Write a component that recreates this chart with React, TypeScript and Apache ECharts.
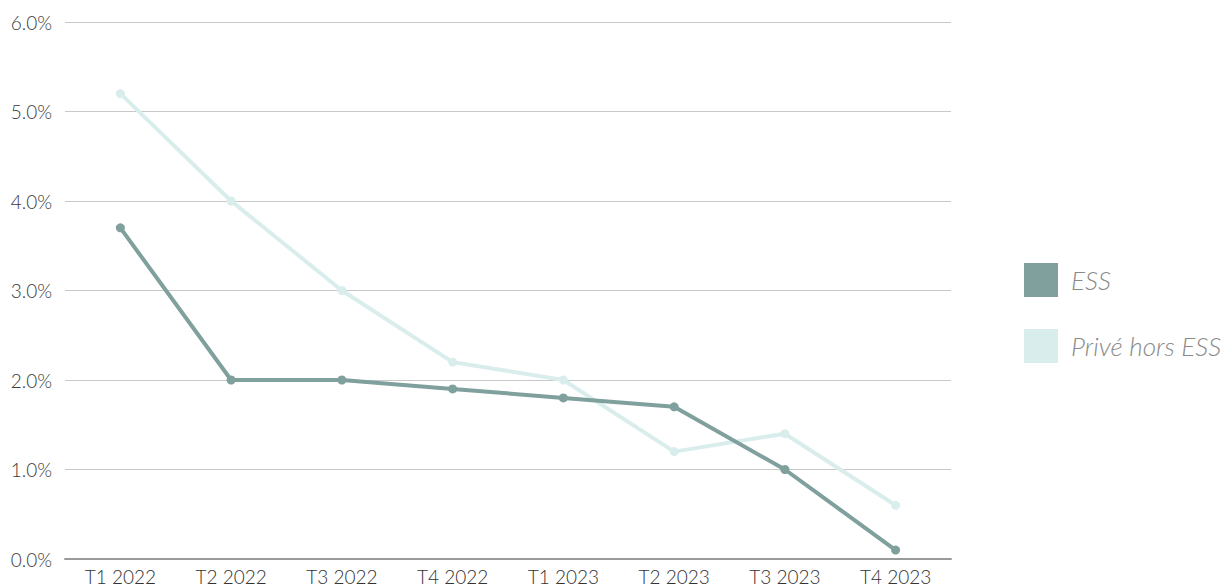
import React, { useEffect, useRef } from "react";
import * as echarts from "echarts";

const categories = ["T1 2022", "T2 2022", "T3 2022", "T4 2022", "T1 2023", "T2 2023", "T3 2023", "T4 2023"];
const essValues = [3.7, 2.0, 2.0, 1.9, 1.8, 1.7, 1.0, 0.1];
const priveValues = [5.2, 4.0, 3.0, 2.2, 2.0, 1.2, 1.4, 0.6];
const seriesNames = ["ESS", "Privé hors ESS"];

export default function App() {
  const ref = useRef<HTMLDivElement>(null);
  useEffect(() => {
    if (!ref.current) return;
    const chart = echarts.init(ref.current, null, { renderer: "svg" });
    const font = "Lato";
    chart.setOption({
      animation: false,
      grid: { left: 65, right: 274, top: 22, bottom: 28, containLabel: false },
      legend: {
        orient: "vertical",
        left: 1024,
        top: 263,
        padding: 0,
        icon: "rect",
        itemWidth: 34,
        itemHeight: 34,
        itemGap: 32,
        data: seriesNames,
        textStyle: {
          color: "#8a8a8a",
          fontFamily: font,
          fontWeight: 300,
          fontStyle: "italic",
          fontSize: 26,
          lineHeight: 34,
          padding: [0, 0, 0, 8],
        },
      },
      xAxis: {
        type: "category",
        data: categories,
        boundaryGap: true,
        axisLine: { show: true, lineStyle: { color: "#9a9a9a", width: 2 } },
        axisTick: { show: false },
        axisLabel: { color: "#333", fontFamily: font, fontWeight: 300, fontSize: 19, margin: 8 },
      },
      yAxis: {
        type: "value",
        min: 0,
        max: 6,
        interval: 1,
        axisLine: { show: false },
        axisTick: { show: false },
        axisLabel: {
          color: "#3a3a3a",
          fontFamily: font,
          fontWeight: 300,
          fontSize: 19,
          margin: 13,
          formatter: (v: number) => v.toFixed(1) + "%",
        },
        splitLine: { lineStyle: { color: "#c8c8c8", width: 1 } },
      },
      series: [
        {
          name: seriesNames[1],
          type: "line",
          data: priveValues,
          symbol: "circle",
          symbolSize: 9,
          itemStyle: { color: "#d9eeec" },
          lineStyle: { color: "#d9eeec", width: 4 },
          z: 2,
        },
        {
          name: seriesNames[0],
          type: "line",
          data: essValues,
          symbol: "circle",
          symbolSize: 9,
          itemStyle: { color: "#7fa09c" },
          lineStyle: { color: "#7fa09c", width: 4 },
          z: 3,
        },
      ],
    });
    return () => chart.dispose();
  }, []);
  return <div ref={ref} style={{ position: "absolute", left: 0, top: 0, width: 1225, height: 587 }} />;
}
